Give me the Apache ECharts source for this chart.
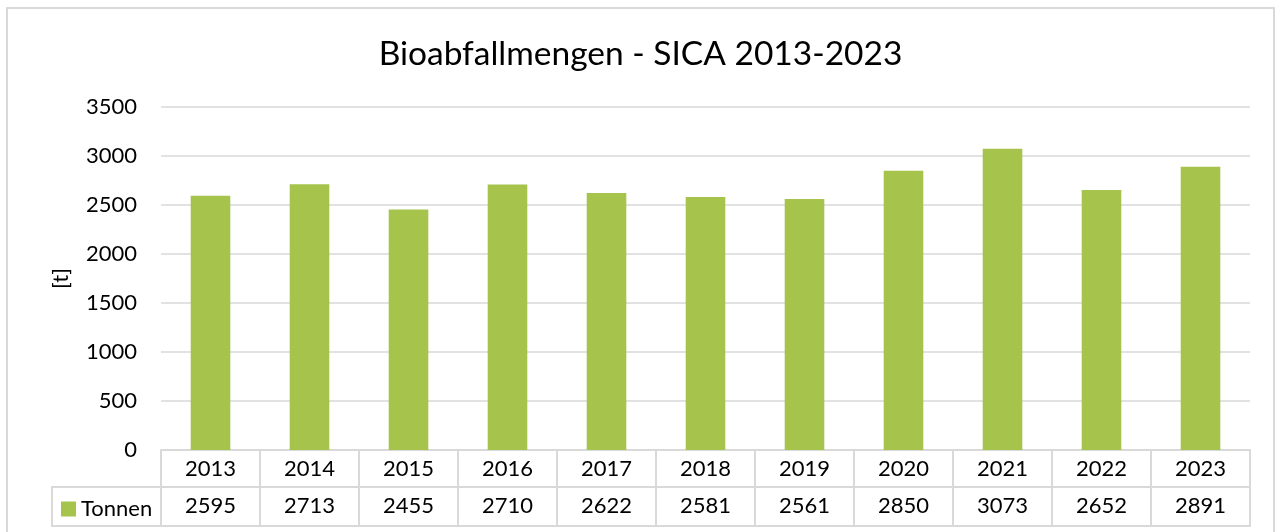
<!DOCTYPE html>
<html>
<head>
<meta charset="utf-8">
<script src="https://cdn.jsdelivr.net/npm/echarts@6/dist/echarts.min.js"></script>
<style>
  html, body { margin: 0; padding: 0; background: #fff; }
  #chart { width: 1281px; height: 532px; }
</style>
</head>
<body>
<div id="chart"></div>
<script>
// data
const years = ["2013", "2014", "2015", "2016", "2017", "2018", "2019", "2020", "2021", "2022", "2023"];
const tonnen = [2595, 2713, 2455, 2710, 2622, 2581, 2561, 2850, 3073, 2652, 2891];
const yTicks = { min: 0, max: 3500, interval: 500 };

const FONT = "Lato";
const GRAY = "#d9d9d9";
const GREEN = "#a6c34c";

const chart = echarts.init(document.getElementById("chart"));

chart.setOption({
  animation: false,
  textStyle: { fontFamily: FONT, color: "#000" },
  title: {
    text: "Bioabfallmengen - SICA 2013-2023",
    left: "center",
    top: 32,
    textStyle: { fontFamily: FONT, fontSize: 33.5, fontWeight: "normal", color: "#000" }
  },
  legend: {
    left: 61,
    top: 498,
    itemWidth: 15,
    itemHeight: 15,
    itemGap: 0,
    padding: 0,
    icon: "rect",
    textStyle: { fontFamily: FONT, fontSize: 22, color: "#000" },
    data: ["Tonnen"]
  },
  grid: { left: 161, right: 31, top: 107, bottom: 82, containLabel: false },
  xAxis: [
    {
      type: "category",
      data: years,
      position: "bottom",
      axisLine: { show: true, lineStyle: { color: GRAY, width: 2 } },
      axisTick: { show: true, interval: 0, length: 37, lineStyle: { color: GRAY, width: 2 } },
      axisLabel: { interval: 0, margin: 8, fontSize: 22, color: "#000", fontFamily: FONT }
    },
    {
      type: "category",
      data: tonnen.map(String),
      position: "bottom",
      offset: 37,
      axisLine: { show: true, lineStyle: { color: GRAY, width: 2 } },
      axisTick: { show: true, interval: 0, length: 39, lineStyle: { color: GRAY, width: 2 } },
      axisLabel: { interval: 0, margin: 8, fontSize: 22, color: "#000", fontFamily: FONT }
    },
    {
      type: "category",
      data: years,
      position: "bottom",
      offset: 76,
      axisLine: { show: true, lineStyle: { color: GRAY, width: 2 } },
      axisTick: { show: false },
      axisLabel: { show: false }
    }
  ],
  yAxis: {
    type: "value",
    min: yTicks.min,
    max: yTicks.max,
    interval: yTicks.interval,
    name: "[t]",
    nameLocation: "middle",
    nameGap: 89,
    nameMoveOverlap: false,
    nameTextStyle: { fontFamily: FONT, fontSize: 22, color: "#000" },
    axisLine: { show: false },
    axisTick: { show: false },
    axisLabel: { margin: 24, fontSize: 22, color: "#000", fontFamily: FONT, formatter: v => String(v) },
    splitLine: { lineStyle: { color: GRAY, width: 1.5 } }
  },
  series: [
    {
      name: "Tonnen",
      type: "bar",
      data: tonnen,
      barWidth: "40%",
      itemStyle: { color: GREEN }
    }
  ],
  graphic: [
    {
      type: "rect",
      silent: true,
      shape: { x: 7, y: 8, width: 1267, height: 540 },
      style: { fill: null, stroke: GRAY, lineWidth: 2 }
    },
    {
      type: "rect",
      silent: true,
      shape: { x: 52, y: 487, width: 109, height: 39 },
      style: { fill: null, stroke: GRAY, lineWidth: 2 }
    }
  ]
});
</script>
</body>
</html>
